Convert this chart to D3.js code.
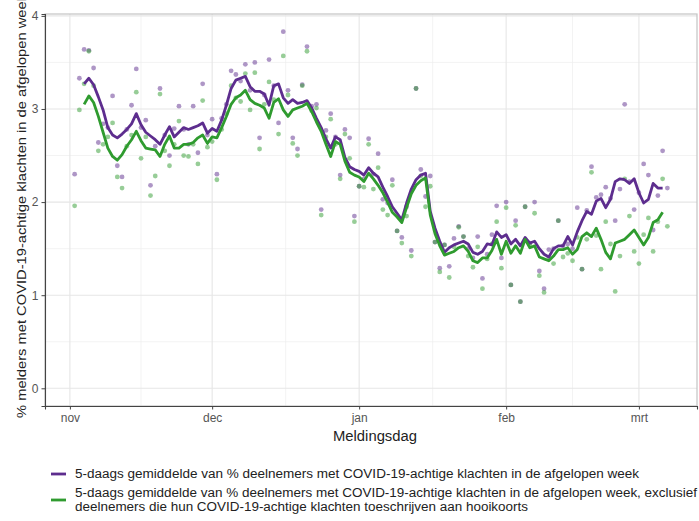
<!DOCTYPE html>
<html>
<head>
<meta charset="utf-8">
<script src="https://cdn.jsdelivr.net/npm/d3@7"></script>
<style>
  body { margin: 0; background: #fff; }
  svg { display: block; }
  text { font-family: "Liberation Sans", Arial, sans-serif; }
</style>
</head>
<body>
<div class="canvas"></div>
<script>
// daily points start 2 nov 2020, 5-day averages start 4 nov 2020
const dotStart = "2020-11-02";
const lineStart = "2020-11-04";

const monthTicks = ["2020-11-01", "2020-12-01", "2021-01-01", "2021-02-01", "2021-03-01"];
const monthLabels = ["nov", "dec", "jan", "feb", "mrt"];
const yTicks = [0, 1, 2, 3, 4];

// daily % (all participants)
const dotsAll = [
  2.30, 3.33, 3.64, 3.63, 3.44, 2.64, 2.84, 2.80, 3.14, 2.39,
  2.27, 2.78, 3.04, 3.43, 2.80, 2.88, 2.18, 2.60, 3.22, 2.72,
  2.50, 2.79, 3.03, 2.78, 2.62, 3.03, 2.53, 3.27, 2.72, 2.89,
  2.30, 2.90, 3.05, 3.41, 3.37, 3.30, 3.48, 3.20, 3.50, 2.69,
  3.15, 3.53, 3.25, 2.85, 3.83, 3.20, 2.69, 2.57, 3.26, 3.67,
  3.03, 3.05, 1.92, 2.77, 2.95, 2.70, 2.29, 2.78, 2.69, 1.85,
  2.17, 2.25, 2.68, 2.30, 2.52, 2.03, 1.99, 2.24, 1.69, 1.62,
  1.95, 1.48, 3.22, 2.35, 2.06, 2.28, 1.57, 1.29, 1.54, 1.31,
  1.61, 1.74, 1.63, 1.50, 1.40, 1.63, 1.18, 1.44, 1.65, 1.96,
  1.40, 2.00, 1.11, 1.80, 0.93, 1.95, 1.56, 2.00, 1.26, 1.07,
  1.49, 1.50, 1.80, 1.53, 1.55, 1.50, 1.94, 1.28, 1.91, 2.38,
  2.05, 2.08, 2.16, 2.04, 1.80, 2.14, 3.05, 2.22, 1.92, 2.10,
  2.41, 2.29, 1.70, 2.07, 2.55, 2.15
];

// daily % excluding hay fever
const dotsExcl = [
  1.96, 2.99, 3.27, 3.62, 3.25, 2.55, 2.62, 2.70, 2.85, 2.27,
  2.15, 2.60, 2.72, 3.18, 2.47, 2.70, 2.07, 2.28, 3.16, 2.55,
  2.39, 2.62, 2.87, 2.50, 2.49, 2.62, 2.41, 3.09, 2.59, 2.65,
  2.24, 2.78, 2.95, 3.25, 3.12, 3.08, 3.38, 2.99, 3.39, 2.57,
  3.05, 3.29, 3.10, 2.73, 3.57, 3.15, 2.63, 2.50, 3.25, 3.62,
  2.98, 3.01, 1.86, 2.70, 2.89, 2.62, 2.25, 2.73, 2.47, 1.79,
  2.17, 2.16, 2.62, 2.14, 2.37, 1.92, 1.86, 2.18, 1.69, 1.56,
  1.85, 1.42, 3.22, 2.28, 1.95, 2.17, 1.57, 1.25, 1.54, 1.19,
  1.52, 1.73, 1.63, 1.42, 1.30, 1.52, 1.07, 1.39, 1.55, 1.79,
  1.29, 1.94, 1.11, 1.75, 0.93, 1.95, 1.54, 1.88, 1.21, 1.03,
  1.40, 1.34, 1.80, 1.41, 1.45, 1.37, 1.62, 1.28, 1.60, 2.32,
  1.64, 1.28, 1.79, 1.55, 1.04, 1.42, 2.25, 1.85, 1.47, 1.34,
  1.65, 1.83, 1.47, 1.79, 2.25, 1.74
];

// 5-day averages
const lineAll = [
  3.27, 3.33, 3.26, 3.13, 2.99, 2.80, 2.72, 2.69, 2.73, 2.78,
  2.84, 2.95, 2.83, 2.75, 2.71, 2.67, 2.62, 2.72, 2.81, 2.70,
  2.75, 2.80, 2.78, 2.80, 2.82, 2.85, 2.74, 2.79, 2.76, 2.88,
  3.04, 3.22, 3.31, 3.33, 3.35, 3.24, 3.19, 3.19, 3.16, 3.04,
  3.25, 3.27, 3.12, 3.06, 3.10, 3.06, 3.07, 3.09, 3.01, 2.90,
  2.80, 2.68, 2.58, 2.70, 2.67, 2.48, 2.38, 2.35, 2.33, 2.29,
  2.37, 2.31, 2.27, 2.16, 2.06, 1.95, 1.88, 1.81, 1.99, 2.14,
  2.24, 2.29, 2.31, 1.90, 1.72, 1.58, 1.46, 1.51, 1.54, 1.56,
  1.58, 1.55, 1.46, 1.44, 1.47, 1.55, 1.54, 1.68, 1.62, 1.65,
  1.55, 1.60, 1.53, 1.62, 1.56, 1.58, 1.50, 1.44, 1.41, 1.50,
  1.53, 1.53, 1.63, 1.54, 1.68, 1.80, 1.90, 1.87, 2.01, 2.04,
  1.94, 2.03, 2.22, 2.25, 2.24, 2.20, 2.25, 2.10, 1.99, 2.03,
  2.20, 2.15, 2.15
];

const lineExcl = [
  3.05, 3.14, 3.07, 2.92, 2.75, 2.58, 2.49, 2.45, 2.51, 2.60,
  2.67, 2.76, 2.66, 2.58, 2.57, 2.56, 2.49, 2.62, 2.71, 2.58,
  2.58, 2.62, 2.62, 2.64, 2.69, 2.72, 2.63, 2.70, 2.69, 2.80,
  2.92, 3.05, 3.12, 3.15, 3.20, 3.10, 3.06, 3.04, 3.01, 2.90,
  3.07, 3.11, 2.99, 2.92, 2.99, 3.01, 3.03, 3.06, 2.97, 2.86,
  2.76, 2.62, 2.49, 2.65, 2.62, 2.44, 2.32, 2.29, 2.27, 2.22,
  2.31, 2.25, 2.18, 2.10, 2.00, 1.89, 1.84, 1.78, 1.94, 2.09,
  2.18, 2.23, 2.26, 1.86, 1.66, 1.53, 1.43, 1.45, 1.47, 1.51,
  1.53, 1.47, 1.37, 1.35, 1.40, 1.40, 1.48, 1.60, 1.44, 1.58,
  1.45, 1.53, 1.45, 1.60, 1.51, 1.53, 1.41, 1.39, 1.37, 1.42,
  1.49, 1.49, 1.51, 1.44, 1.49, 1.63, 1.67, 1.63, 1.72, 1.60,
  1.46, 1.39, 1.56, 1.58, 1.60, 1.65, 1.70, 1.62, 1.54, 1.62,
  1.78, 1.81, 1.89
];

const legendLines = [
  ["5-daags gemiddelde van % deelnemers met COVID-19-achtige klachten in de afgelopen week"],
  ["5-daags gemiddelde van % deelnemers met COVID-19-achtige klachten in de afgelopen week, exclusief",
   "deelnemers die hun COVID-19-achtige klachten toeschrijven aan hooikoorts"]
];

const purple = "#5d2d8e";
const green = "#2f9b2f";

const width = 699, height = 521;
const panelLeft = 45, panelRight = 697, panelTop = 14, panelBottom = 406;

const svg = d3.select(".canvas").append("svg")
  .attr("width", width).attr("height", height);

const parse = d3.utcParse("%Y-%m-%d");
const dayMs = 864e5;

function series(start, values) {
  const t0 = parse(start).getTime();
  return values.map((v, i) => ({ date: new Date(t0 + i * dayMs), value: v }));
}

const ptsAll = series(dotStart, dotsAll);
const ptsExcl = series(dotStart, dotsExcl);
const avgAll = series(lineStart, lineAll);
const avgExcl = series(lineStart, lineExcl);

// ggplot-like 5% expansion of the date range
const ext = d3.extent(ptsAll, d => d.date);
const pad = (ext[1] - ext[0]) * 0.05;
const x = d3.scaleUtc()
  .domain([new Date(+ext[0] - pad), new Date(+ext[1] + pad)])
  .range([panelLeft, panelRight]);

const y = d3.scaleLinear().domain([-0.19, 4.02]).range([panelBottom, panelTop]);

const majorX = monthTicks.map(parse);
const minorX = [];
for (let i = 0; i < majorX.length - 1; i++) {
  minorX.push(new Date((+majorX[i] + +majorX[i + 1]) / 2));
}
const minorY = yTicks.slice(0, -1).map(v => v + 0.5);

// grid
const grid = svg.append("g");
grid.selectAll(".minx").data(minorX).join("line")
  .attr("x1", d => x(d)).attr("x2", d => x(d))
  .attr("y1", panelTop).attr("y2", panelBottom)
  .attr("stroke", "#eeeeee").attr("stroke-width", 0.7);
grid.selectAll(".miny").data(minorY).join("line")
  .attr("x1", panelLeft).attr("x2", panelRight)
  .attr("y1", d => y(d)).attr("y2", d => y(d))
  .attr("stroke", "#eeeeee").attr("stroke-width", 0.7);
grid.selectAll(".majx").data(majorX).join("line")
  .attr("x1", d => x(d)).attr("x2", d => x(d))
  .attr("y1", panelTop).attr("y2", panelBottom)
  .attr("stroke", "#e6e6e6").attr("stroke-width", 1.1);
grid.selectAll(".majy").data(yTicks).join("line")
  .attr("x1", panelLeft).attr("x2", panelRight)
  .attr("y1", d => y(d)).attr("y2", d => y(d))
  .attr("stroke", "#e6e6e6").attr("stroke-width", 1.1);

// points
svg.append("g").selectAll("circle").data(ptsAll).join("circle")
  .attr("cx", d => x(d.date)).attr("cy", d => y(d.value))
  .attr("r", 2.4).attr("fill", purple).attr("fill-opacity", 0.5);
svg.append("g").selectAll("circle").data(ptsExcl).join("circle")
  .attr("cx", d => x(d.date)).attr("cy", d => y(d.value))
  .attr("r", 2.4).attr("fill", green).attr("fill-opacity", 0.5);

// lines
const line = d3.line().x(d => x(d.date)).y(d => y(d.value));
svg.append("path").datum(avgAll).attr("d", line)
  .attr("fill", "none").attr("stroke", purple).attr("stroke-width", 2.8)
  .attr("stroke-linejoin", "round");
svg.append("path").datum(avgExcl).attr("d", line)
  .attr("fill", "none").attr("stroke", green).attr("stroke-width", 2.8)
  .attr("stroke-linejoin", "round");

// panel border
svg.append("rect").attr("x", panelLeft).attr("y", panelTop)
  .attr("width", panelRight - panelLeft).attr("height", panelBottom - panelTop)
  .attr("fill", "none").attr("stroke", "#c4c4c4").attr("stroke-width", 1.2);

// axes
const xAxis = svg.append("g").attr("transform", `translate(0,${panelBottom})`)
  .call(d3.axisBottom(x).tickValues(majorX)
    .tickFormat((d, i) => monthLabels[i]).tickSize(3.5).tickPadding(4));
const yAxis = svg.append("g").attr("transform", `translate(${panelLeft},0)`)
  .call(d3.axisLeft(y).tickValues(yTicks).tickFormat(d3.format("d"))
    .tickSize(3.5).tickPadding(3));

[xAxis, yAxis].forEach(g => {
  g.select(".domain").attr("stroke", "#444").attr("stroke-width", 1.1);
  g.selectAll(".tick line").attr("stroke", "#444");
  g.selectAll(".tick text").attr("fill", "#555")
    .style("font-size", "12px")
    .style("font-family", "'Liberation Sans', Arial, sans-serif");
});

// axis titles
svg.append("text")
  .attr("x", (panelLeft + panelRight) / 2 + 4).attr("y", 441)
  .attr("text-anchor", "middle")
  .attr("fill", "#222")
  .style("font-size", "14px")
  .attr("textLength", 84).attr("lengthAdjust", "spacingAndGlyphs")
  .text("Meldingsdag");

svg.append("text")
  .attr("transform", "translate(26,206) rotate(-90)")
  .attr("text-anchor", "middle")
  .attr("fill", "#222")
  .style("font-size", "13.5px")
  .attr("textLength", 424).attr("lengthAdjust", "spacingAndGlyphs")
  .text("% melders met COVID-19-achtige klachten in de afgelopen week");

// legend
const legend = svg.append("g");
const keyY = [474, 500];
const textY = [[478], [497, 511]];
const textLen = [[564], [622, 453]];
[purple, green].forEach((c, i) => {
  legend.append("line")
    .attr("x1", 51).attr("x2", 66)
    .attr("y1", keyY[i]).attr("y2", keyY[i])
    .attr("stroke", c).attr("stroke-width", 2.8);
  legendLines[i].forEach((t, j) => {
    legend.append("text")
      .attr("x", 75).attr("y", textY[i][j])
      .attr("fill", "#222")
      .style("font-size", "12.5px")
      .attr("textLength", textLen[i][j]).attr("lengthAdjust", "spacingAndGlyphs")
      .text(t);
  });
});
</script>
</body>
</html>
